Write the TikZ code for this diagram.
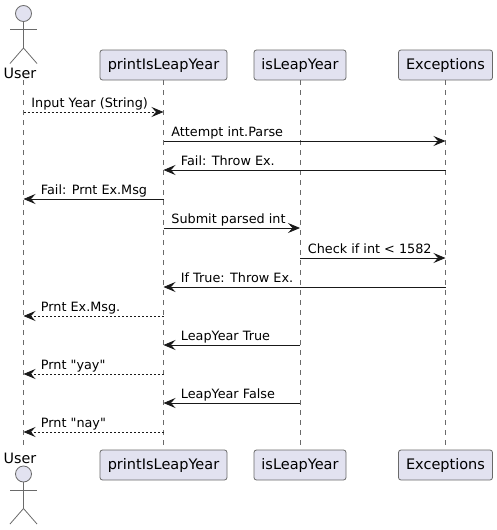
\documentclass[tikz,border=0pt]{standalone}
\usepackage{fontspec}
\setmainfont{DejaVu Sans}[Ligatures=TeXOff]
\usetikzlibrary{arrows.meta}
\definecolor{partfill}{HTML}{E2E2F0}
\definecolor{partline}{HTML}{6A6A6A}
\tikzset{
  part/.style={draw=partline,fill=partfill,rounded corners=2.5pt,line width=0.8pt,minimum height=30pt,inner sep=0pt,font=\fontsize{14.5}{16}\selectfont},
  life/.style={draw=partline,line width=0.6pt,dash pattern=on 5pt off 5pt},
  stick/.style={draw=partline,line width=0.8pt},
  actorname/.style={font=\fontsize{14.3}{16}\selectfont,inner sep=0pt},
  msg/.style={draw=black!90,line width=0.8pt,-{Stealth[length=12pt,width=10pt,inset=4.5pt]}},
  retmsg/.style={msg,dash pattern=on 2pt off 2pt},
  txt/.style={anchor=south west,inner sep=0pt,text height=10pt,text depth=3pt,font=\fontsize{12.8}{15}\selectfont,yshift=1.5pt},
  txtr/.style={txt,pos=0,xshift=7.5pt},
  txtl/.style={txt,pos=1,xshift=17pt}
}
\begin{document}
\begin{tikzpicture}[x=1pt,y=1pt]
  \useasboundingbox (0,0) rectangle (497,-530);

  % participants
  \node[part,minimum width=127pt] (p) at (163.5,-65) {printIsLeapYear};
  \node[part,minimum width=92pt] (l) at (300,-65) {isLeapYear};
  \node[part,minimum width=94pt] (e) at (445.5,-65) {Exceptions};
  \node[part,minimum width=127pt] (pb) at (163.5,-465) {printIsLeapYear};
  \node[part,minimum width=92pt] (lb) at (300,-465) {isLeapYear};
  \node[part,minimum width=94pt] (eb) at (445.5,-465) {Exceptions};
  \node[actorname] (u) at (20,-73) {User};
  \node[actorname] (ub) at (20,-458) {User};

  % lifelines
  \coordinate (ut) at (23.5,-80);
  \coordinate (ue) at (23.5,-447);
  \draw[life] (ut) -- (ue);
  \draw[life] (p) -- (pb);
  \draw[life] (l) -- (lb);
  \draw[life] (e) -- (eb);

  % stick figures
  \foreach \n/\y in {a/13.5,b/474} {
    \node[stick,circle,fill=partfill,minimum size=16pt,inner sep=0pt] (head\n) at (23.5,-\y) {};
    \coordinate (hip\n) at (23.5,-\y-34.5);
    \draw[stick] (head\n) -- (hip\n);
    \draw[stick] (10,-\y-16) -- (37,-\y-16);
    \draw[stick] (10,-\y-50) -- (hip\n) -- (37,-\y-50);
  }

  % message rows
  \foreach \n/\y in {1/112,2/141,3/170,4/199,5/228,6/258,7/287,8/316,9/345,10/374,11/403,12/432} {
    \coordinate (u\n) at (23.5,-\y);
    \coordinate (p\n) at (163.5,-\y);
    \coordinate (l\n) at (300,-\y);
    \coordinate (e\n) at (445.5,-\y);
  }

  \draw[retmsg] (u1) -- node[txtr] (m1) {Input Year (String)} (p1);
  \draw[msg] (p2) -- node[txtr] (m2) {Attempt int.Parse} (e2);
  \draw[msg] (e3) -- node[txtl] (m3) {Fail: Throw Ex.} (p3);
  \draw[msg] (p4) -- node[txtl] (m4) {Fail: Prnt Ex.Msg} (u4);
  \draw[msg] (p5) -- node[txtr] (m5) {Submit parsed int} (l5);
  \draw[msg] (l6) -- node[txtr] (m6) {Check if int < 1582} (e6);
  \draw[msg] (e7) -- node[txtl] (m7) {If True: Throw Ex.} (p7);
  \draw[retmsg] (p8) -- node[txtl] (m8) {Prnt Ex.Msg.} (u8);
  \draw[msg] (l9) -- node[txtl] (m9) {LeapYear True} (p9);
  \draw[retmsg] (p10) -- node[txtl] (m10) {Prnt "yay"} (u10);
  \draw[msg] (l11) -- node[txtl] (m11) {LeapYear False} (p11);
  \draw[retmsg] (p12) -- node[txtl] (m12) {Prnt "nay"} (u12);
\end{tikzpicture}
\end{document}
